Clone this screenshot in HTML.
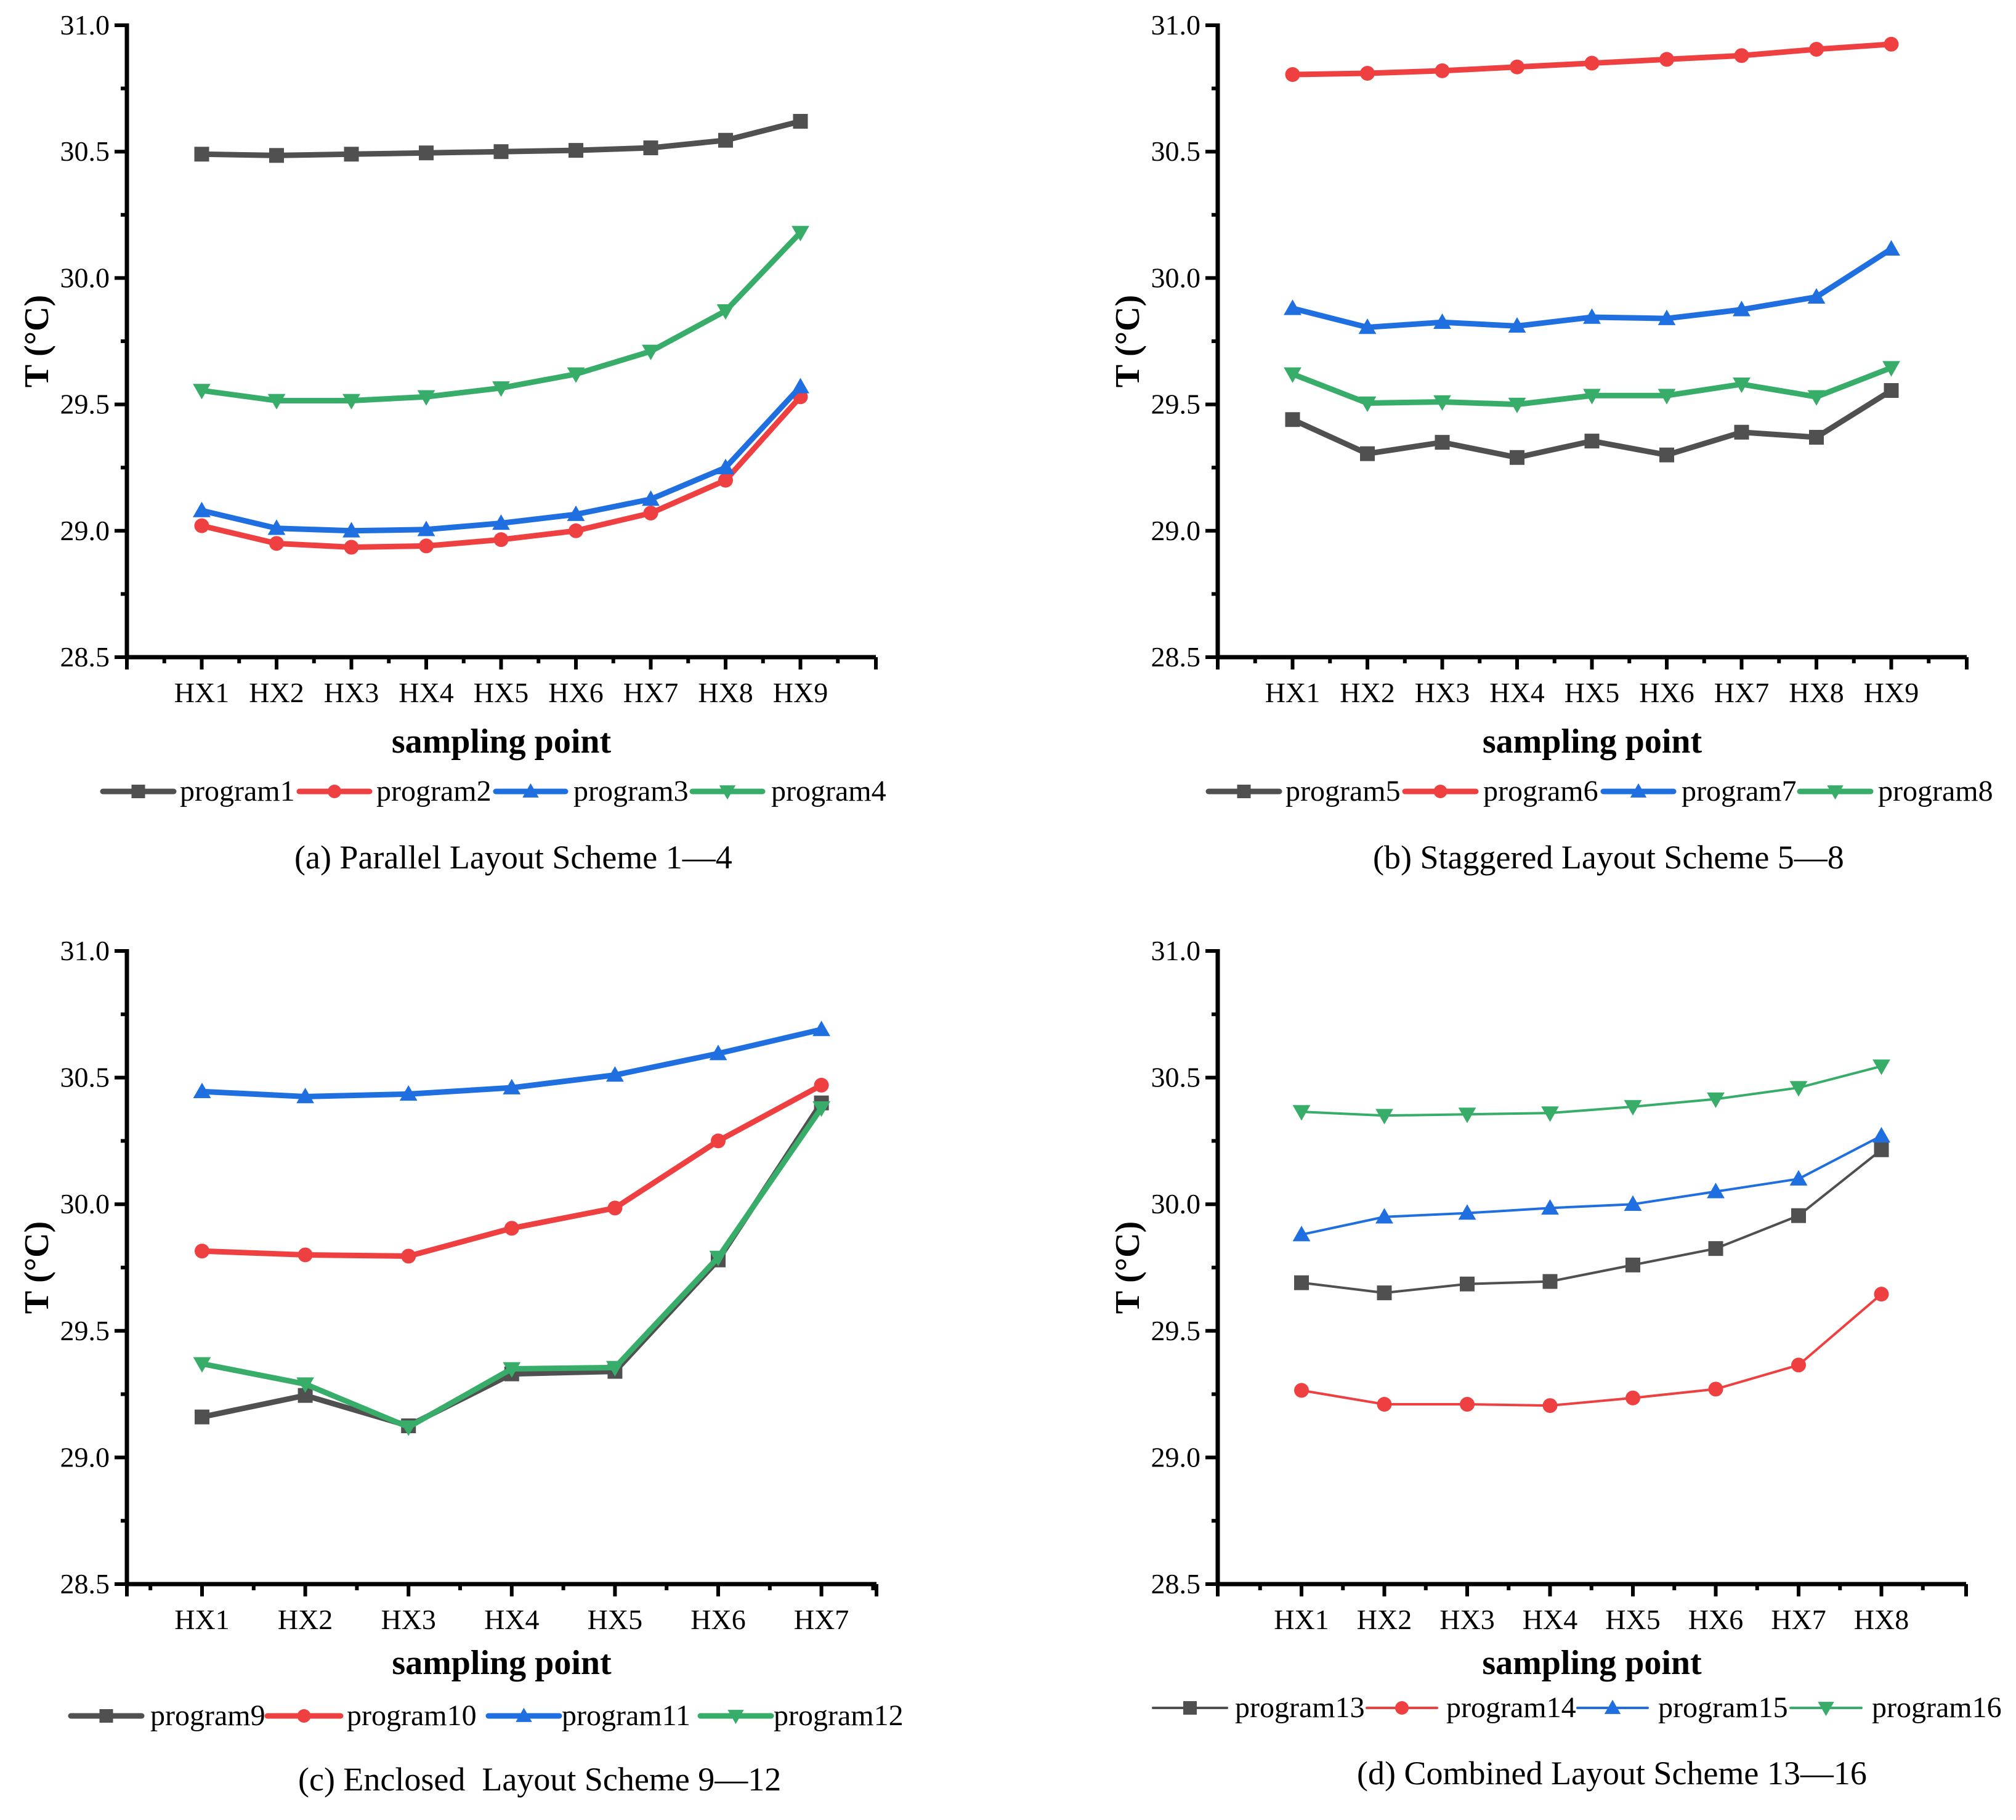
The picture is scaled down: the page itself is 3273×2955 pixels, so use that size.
<!DOCTYPE html>
<html><head><meta charset="utf-8"><style>
html,body{margin:0;padding:0;background:#fff;}
svg text{font-family:"Liberation Serif","Times New Roman",serif;fill:#000;}
</style></head><body>
<svg id="fig" xmlns="http://www.w3.org/2000/svg" width="3273" height="2950" viewBox="0 0 3273 2950"></svg>
<script>
const catsA = ["HX1","HX2","HX3","HX4","HX5","HX6","HX7","HX8","HX9"];
const catsC = ["HX1","HX2","HX3","HX4","HX5","HX6","HX7"];
const catsD = ["HX1","HX2","HX3","HX4","HX5","HX6","HX7","HX8"];
const yTicks = [28.5,29.0,29.5,30.0,30.5,31.0];
const yTickLabels = ["28.5","29.0","29.5","30.0","30.5","31.0"];
const p1 = [30.49,30.485,30.49,30.495,30.50,30.505,30.515,30.545,30.62];
const p2 = [29.02,28.95,28.935,28.94,28.965,29.0,29.07,29.2,29.53];
const p3 = [29.08,29.01,29.0,29.005,29.03,29.065,29.125,29.25,29.57];
const p4 = [29.555,29.515,29.515,29.53,29.565,29.62,29.71,29.87,30.18];
const p5 = [29.44,29.305,29.35,29.29,29.355,29.30,29.39,29.37,29.555];
const p6 = [30.805,30.81,30.82,30.835,30.85,30.865,30.88,30.905,30.925];
const p7 = [29.88,29.805,29.825,29.81,29.845,29.84,29.875,29.925,30.115];
const p8 = [29.62,29.505,29.51,29.50,29.535,29.535,29.58,29.53,29.645];
const p9 = [29.16,29.245,29.125,29.33,29.34,29.78,30.4];
const p10 = [29.815,29.80,29.795,29.905,29.985,30.25,30.47];
const p11 = [30.445,30.425,30.435,30.46,30.51,30.595,30.69];
const p12 = [29.37,29.29,29.12,29.35,29.355,29.79,30.38];
const p13 = [29.69,29.65,29.685,29.695,29.76,29.825,29.955,30.215];
const p14 = [29.265,29.21,29.21,29.205,29.235,29.27,29.365,29.645];
const p15 = [29.88,29.95,29.965,29.985,30.0,30.05,30.1,30.27];
const p16 = [30.365,30.35,30.355,30.36,30.385,30.415,30.46,30.545];

const NS="http://www.w3.org/2000/svg";
const svg=document.getElementById('fig');
const COL={sq:"#505050",ci:"#ee4040",up:"#1f6fe0",dn:"#38ad6a"};
function mk(tag,attrs,parent){const e=document.createElementNS(NS,tag);for(const k in attrs)e.setAttribute(k,attrs[k]);(parent||svg).appendChild(e);return e;}
function marker(g,type,x,y,s){
  let e;
  if(type==="sq"){e=mk('rect',{x:x-s/2,y:y-s/2,width:s,height:s,fill:COL.sq},g);}
  else if(type==="ci"){e=mk('circle',{cx:x,cy:y,r:s/2,fill:COL.ci},g);}
  else if(type==="up"){e=mk('polygon',{points:`${x},${y-s*0.6} ${x-s*0.6},${y+s*0.45} ${x+s*0.6},${y+s*0.45}`,fill:COL.up},g);}
  else {e=mk('polygon',{points:`${x},${y+s*0.6} ${x-s*0.6},${y-s*0.45} ${x+s*0.6},${y-s*0.45}`,fill:COL.dn},g);}
  
  
}
function panel(cfg){
  const g=mk('g',{});
  
  
  const yS=v=>cfg.y0+(31-v)/2.5*(cfg.y1-cfg.y0);
  const xS=i=>cfg.hx1+i*cfg.dx;
  cfg.series.forEach(s=>{
    const pts=s.vals.map((v,i)=>xS(i)+","+yS(v)).join(" ");
    const pl=mk('polyline',{points:pts,fill:"none",stroke:COL[s.m],"stroke-width":cfg.lw,"stroke-linejoin":"round"},g);
    
    
    s.vals.forEach((v,i)=>marker(g,s.m,xS(i),yS(v),24));
  });
  const ya=mk('line',{x1:cfg.ax,y1:cfg.y0-3,x2:cfg.ax,y2:cfg.y1+3,stroke:"#000","stroke-width":7},g);
  
  const xa=mk('line',{x1:cfg.ax-3,y1:cfg.y1,x2:cfg.xend,y2:cfg.y1,stroke:"#000","stroke-width":7},g);
  
  yTicks.forEach((v,i)=>{
    const y=yS(v);
    mk('line',{x1:cfg.ax-20,y1:y,x2:cfg.ax,y2:y,stroke:"#000","stroke-width":6},g);
    if(i<yTicks.length-1){const ym=yS(v+0.25);mk('line',{x1:cfg.ax-10,y1:ym,x2:cfg.ax,y2:ym,stroke:"#000","stroke-width":6},g);}
    const t=mk('text',{x:cfg.ax-28,y:y+15,"font-size":46,"text-anchor":"end"},g);
    t.textContent=yTickLabels[i];
    
  });
  const n=cfg.cats.length;
  mk('line',{x1:cfg.ax,y1:cfg.y1,x2:cfg.ax,y2:cfg.y1+20,stroke:"#000","stroke-width":6},g);
  mk('line',{x1:cfg.xend,y1:cfg.y1,x2:cfg.xend,y2:cfg.y1+20,stroke:"#000","stroke-width":6},g);
  for(let i=-1;i<=n;i++){
    const xm=xS(i+0.5); if(xm>cfg.ax+5&&xm<cfg.xend-5) mk('line',{x1:xm,y1:cfg.y1,x2:xm,y2:cfg.y1+10,stroke:"#000","stroke-width":6},g);
  }
  cfg.cats.forEach((c,i)=>{
    mk('line',{x1:xS(i),y1:cfg.y1,x2:xS(i),y2:cfg.y1+20,stroke:"#000","stroke-width":6},g);
    const t=mk('text',{x:xS(i),y:cfg.y1+73,"font-size":46,"text-anchor":"middle"},g);
    t.textContent=c;
    
  });
  const xt=mk('text',{x:(cfg.ax+cfg.xend)/2,y:cfg.titleY,"font-size":56,"font-weight":"bold","text-anchor":"middle"},g);
  xt.textContent="sampling point";
  const ym=(cfg.y0+cfg.y1)/2;
  const yt=mk('text',{x:cfg.ax-128,y:ym,"font-size":56,"font-weight":"bold","text-anchor":"middle",transform:`rotate(-90 ${cfg.ax-128} ${ym})`},g);
  yt.textContent="T (°C)";
  cfg.series.forEach((s,k)=>{
    const L=cfg.leg[k];
    const lg=mk('g',{},g);
    
    mk('line',{x1:L[0],y1:cfg.legY,x2:L[1],y2:cfg.legY,stroke:COL[s.m],"stroke-width":cfg.lw,"stroke-linecap":"round"},lg);
    marker(lg,s.m,(L[0]+L[1])/2,cfg.legY,22);
    const t=mk('text',{x:L[2],y:cfg.legY+15,"font-size":48},lg);
    t.textContent=s.label;
  });
  const cap=mk('text',{x:cfg.capX,y:cfg.capY,"font-size":54,"font-family":"'Liberation Serif','Noto Serif CJK SC',serif"},g);
  cap.textContent=cfg.cap;
}
panel({name:"panel-a",ax:206,xend:1422,y0:41,y1:1067,hx1:327.5,dx:121.5,lw:9,cats:catsA,titleY:1222,legY:1285,capX:478,capY:1410,
  cap:"(a) Parallel Layout Scheme 1\u20144",
  series:[{label:"program1",vals:p1,m:"sq"},{label:"program2",vals:p2,m:"ci"},{label:"program3",vals:p3,m:"up"},{label:"program4",vals:p4,m:"dn"}],
  leg:[[167,282,292],[486,600,611],[805,918,931],[1124,1238,1252]]});
panel({name:"panel-b",ax:1977,xend:3193,y0:41,y1:1067,hx1:2098.5,dx:121.5,lw:9,cats:catsA,titleY:1222,legY:1285,capX:2229,capY:1410,
  cap:"(b) Staggered Layout Scheme 5\u20148",
  series:[{label:"program5",vals:p5,m:"sq"},{label:"program6",vals:p6,m:"ci"},{label:"program7",vals:p7,m:"up"},{label:"program8",vals:p8,m:"dn"}],
  leg:[[1962,2077,2087],[2281,2396,2408],[2603,2717,2730],[2922,3037,3049]]});
panel({name:"panel-c",ax:206,xend:1423,y0:1544,y1:2572,hx1:328,dx:167.6,lw:9,cats:catsC,titleY:2718,legY:2786,capX:484,capY:2907,
  cap:"(c) Enclosed\u00a0 Layout Scheme 9\u201412",
  series:[{label:"program9",vals:p9,m:"sq"},{label:"program10",vals:p10,m:"ci"},{label:"program11",vals:p11,m:"up"},{label:"program12",vals:p12,m:"dn"}],
  leg:[[115,230,244],[434,553,563],[793,908,912],[1137,1252,1256]]});
panel({name:"panel-d",ax:1977,xend:3192,y0:1544,y1:2572,hx1:2113,dx:134.5,lw:4,cats:catsD,titleY:2718,legY:2773,capX:2203,capY:2897,
  cap:"(d) Combined Layout Scheme 13\u201416",
  series:[{label:"program13",vals:p13,m:"sq"},{label:"program14",vals:p14,m:"ci"},{label:"program15",vals:p15,m:"up"},{label:"program16",vals:p16,m:"dn"}],
  leg:[[1872,1992,2005],[2219,2333,2348],[2561,2675,2692],[2907,3022,3039]]});
</script>
</body></html>
